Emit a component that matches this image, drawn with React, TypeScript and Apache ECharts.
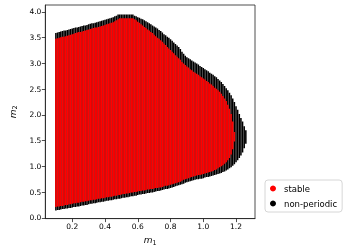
import React, { useEffect, useRef } from "react";
import * as echarts from "echarts";

// m1 columns 0.10 .. 1.26 step 0.01
const m1Values: number[] = [
  0.10, 0.11, 0.12, 0.13, 0.14, 0.15, 0.16, 0.17, 0.18, 0.19,
  0.20, 0.21, 0.22, 0.23, 0.24, 0.25, 0.26, 0.27, 0.28, 0.29,
  0.30, 0.31, 0.32, 0.33, 0.34, 0.35, 0.36, 0.37, 0.38, 0.39,
  0.40, 0.41, 0.42, 0.43, 0.44, 0.45, 0.46, 0.47, 0.48, 0.49,
  0.50, 0.51, 0.52, 0.53, 0.54, 0.55, 0.56, 0.57, 0.58, 0.59,
  0.60, 0.61, 0.62, 0.63, 0.64, 0.65, 0.66, 0.67, 0.68, 0.69,
  0.70, 0.71, 0.72, 0.73, 0.74, 0.75, 0.76, 0.77, 0.78, 0.79,
  0.80, 0.81, 0.82, 0.83, 0.84, 0.85, 0.86, 0.87, 0.88, 0.89,
  0.90, 0.91, 0.92, 0.93, 0.94, 0.95, 0.96, 0.97, 0.98, 0.99,
  1.00, 1.01, 1.02, 1.03, 1.04, 1.05, 1.06, 1.07, 1.08, 1.09,
  1.10, 1.11, 1.12, 1.13, 1.14, 1.15, 1.16, 1.17, 1.18, 1.19,
  1.20, 1.21, 1.22, 1.23, 1.24, 1.25, 1.26,
];

// non-periodic band: lowest m2 per column
const nonPeriodicLow: number[] = [
  0.16, 0.17, 0.17, 0.18, 0.19, 0.19, 0.20, 0.20, 0.21, 0.21,
  0.22, 0.23, 0.23, 0.24, 0.24, 0.25, 0.26, 0.26, 0.27, 0.27,
  0.28, 0.29, 0.29, 0.30, 0.30, 0.31, 0.32, 0.32, 0.33, 0.33,
  0.34, 0.35, 0.35, 0.36, 0.36, 0.37, 0.38, 0.38, 0.39, 0.39,
  0.40, 0.41, 0.41, 0.42, 0.42, 0.43, 0.44, 0.44, 0.45, 0.45,
  0.46, 0.47, 0.47, 0.48, 0.48, 0.49, 0.50, 0.50, 0.51, 0.51,
  0.52, 0.53, 0.54, 0.54, 0.55, 0.56, 0.57, 0.58, 0.58, 0.59,
  0.60, 0.61, 0.62, 0.63, 0.64, 0.65, 0.66, 0.67, 0.68, 0.70,
  0.71, 0.72, 0.73, 0.74, 0.75, 0.76, 0.77, 0.77, 0.78, 0.78,
  0.79, 0.80, 0.81, 0.81, 0.82, 0.83, 0.84, 0.85, 0.86, 0.87,
  0.88, 0.89, 0.91, 0.92, 0.94, 0.96, 0.98, 1.00, 1.03, 1.06,
  1.10, 1.14, 1.18, 1.23, 1.29, 1.37, 1.46,
];

// non-periodic band: highest m2 per column
const nonPeriodicHigh: number[] = [
  3.57, 3.58, 3.59, 3.60, 3.61, 3.62, 3.62, 3.63, 3.64, 3.65,
  3.66, 3.67, 3.68, 3.68, 3.69, 3.70, 3.71, 3.72, 3.72, 3.73,
  3.74, 3.75, 3.76, 3.76, 3.77, 3.78, 3.79, 3.80, 3.81, 3.82,
  3.83, 3.84, 3.85, 3.86, 3.87, 3.88, 3.90, 3.91, 3.93, 3.93,
  3.93, 3.93, 3.93, 3.93, 3.93, 3.93, 3.93, 3.93, 3.91, 3.90,
  3.88, 3.87, 3.85, 3.84, 3.82, 3.80, 3.78, 3.76, 3.74, 3.72,
  3.70, 3.68, 3.66, 3.63, 3.61, 3.58, 3.55, 3.53, 3.50, 3.48,
  3.45, 3.42, 3.39, 3.36, 3.33, 3.30, 3.26, 3.21, 3.17, 3.13,
  3.10, 3.08, 3.06, 3.04, 3.02, 3.00, 2.98, 2.96, 2.93, 2.91,
  2.89, 2.87, 2.85, 2.83, 2.80, 2.78, 2.76, 2.73, 2.71, 2.68,
  2.65, 2.62, 2.58, 2.54, 2.50, 2.46, 2.41, 2.36, 2.30, 2.23,
  2.15, 2.08, 2.00, 1.92, 1.85, 1.76, 1.68,
];

// stable region: lowest m2 per column (null = none)
const stableLow: (number | null)[] = [
  0.23, 0.24, 0.24, 0.25, 0.25, 0.26, 0.27, 0.27, 0.28, 0.28,
  0.29, 0.30, 0.30, 0.31, 0.31, 0.32, 0.33, 0.33, 0.34, 0.34,
  0.35, 0.36, 0.36, 0.37, 0.37, 0.38, 0.39, 0.39, 0.40, 0.40,
  0.41, 0.42, 0.42, 0.43, 0.43, 0.44, 0.45, 0.45, 0.46, 0.46,
  0.47, 0.48, 0.48, 0.49, 0.49, 0.50, 0.51, 0.51, 0.52, 0.52,
  0.53, 0.54, 0.54, 0.55, 0.55, 0.56, 0.57, 0.57, 0.58, 0.58,
  0.59, 0.60, 0.60, 0.61, 0.61, 0.62, 0.63, 0.64, 0.64, 0.65,
  0.66, 0.67, 0.68, 0.69, 0.70, 0.71, 0.72, 0.74, 0.76, 0.77,
  0.78, 0.79, 0.80, 0.81, 0.82, 0.83, 0.84, 0.85, 0.85, 0.86,
  0.87, 0.88, 0.89, 0.90, 0.91, 0.92, 0.93, 0.95, 0.96, 0.98,
  1.00, 1.02, 1.04, 1.07, 1.10, 1.14, 1.18, 1.25, 1.35, 1.50,
  null, null, null, null, null, null, null,
];

// stable region: highest m2 per column (null = none)
const stableHigh: (number | null)[] = [
  3.46, 3.47, 3.48, 3.49, 3.50, 3.50, 3.51, 3.52, 3.53, 3.54,
  3.55, 3.56, 3.57, 3.58, 3.59, 3.59, 3.60, 3.61, 3.62, 3.63,
  3.64, 3.65, 3.66, 3.67, 3.68, 3.68, 3.69, 3.70, 3.71, 3.72,
  3.73, 3.74, 3.75, 3.76, 3.77, 3.78, 3.80, 3.82, 3.84, 3.86,
  3.86, 3.86, 3.86, 3.86, 3.86, 3.86, 3.86, 3.86, 3.84, 3.82,
  3.79, 3.77, 3.74, 3.72, 3.69, 3.67, 3.64, 3.62, 3.59, 3.57,
  3.54, 3.51, 3.48, 3.46, 3.43, 3.40, 3.37, 3.34, 3.30, 3.27,
  3.24, 3.21, 3.18, 3.14, 3.11, 3.08, 3.05, 3.01, 2.98, 2.95,
  2.92, 2.90, 2.87, 2.85, 2.82, 2.80, 2.78, 2.76, 2.73, 2.71,
  2.69, 2.67, 2.64, 2.62, 2.59, 2.57, 2.54, 2.51, 2.49, 2.46,
  2.43, 2.39, 2.35, 2.30, 2.25, 2.18, 2.10, 2.00, 1.85, 1.65,
  null, null, null, null, null, null, null,
];

const xTicks: number[] = [0.2, 0.4, 0.6, 0.8, 1.0, 1.2];
const yTicks: number[] = [0.0, 0.5, 1.0, 1.5, 2.0, 2.5, 3.0, 3.5, 4.0];

const FONT = "DejaVu Sans";

function columnRenderer(color: string) {
  return (params: any, api: any) => {
    const lo = api.value(1);
    const hi = api.value(2);
    if (lo == null || hi == null || isNaN(lo) || isNaN(hi)) return null;
    const p0 = api.coord([api.value(0), lo]);
    const p1 = api.coord([api.value(0), hi]);
    const w = 1.55;
    return {
      type: "rect",
      shape: { x: p0[0] - w / 2, y: p1[1] - 1, width: w, height: p0[1] - p1[1] + 2 },
      style: { fill: color },
    };
  };
}

export default function App() {
  const ref = useRef<HTMLDivElement>(null);
  useEffect(() => {
    if (!ref.current) return;
    const chart = echarts.init(ref.current, null, { renderer: "svg" });
    const blackData = m1Values.map((m, i) => [m, nonPeriodicLow[i], nonPeriodicHigh[i]]);
    const redData = m1Values
      .map((m, i) => [m, stableLow[i], stableHigh[i]])
      .filter((d) => d[1] != null && d[2] != null);
    const tickStyle = { color: "#000", fontFamily: FONT, fontSize: 7.5 };
    chart.setOption({
      animation: false,
      textStyle: { fontFamily: FONT },
      grid: {
        left: 35,
        top: 5,
        width: 220,
        height: 214,
        show: true,
        borderColor: "#222",
        borderWidth: 0.8,
        containLabel: false,
      },
      legend: {
        orient: "vertical",
        left: 265,
        top: 180,
        itemWidth: 6,
        itemHeight: 6,
        itemGap: 6,
        padding: [4, 5, 4, 5],
        borderColor: "#ccc",
        borderWidth: 0.8,
        borderRadius: 3,
        textStyle: { fontFamily: FONT, fontSize: 8.5, color: "#000", padding: [0, 0, 0, 3] },
        data: [
          { name: "stable", icon: "circle", itemStyle: { color: "red" } },
          { name: "non-periodic", icon: "circle", itemStyle: { color: "black" } },
        ],
      },
      xAxis: {
        type: "value",
        min: 0.0355,
        max: 1.316,
        splitLine: { show: false },
        axisLine: { show: true, onZero: false, lineStyle: { color: "#222", width: 0.8 } },
        axisTick: { show: true, length: 3.5, customValues: xTicks, lineStyle: { color: "#222", width: 0.8 } },
        axisLabel: {
          ...tickStyle,
          margin: 4,
          customValues: xTicks,
          formatter: (v: number) => v.toFixed(1),
        },
        name: "{i|m}{s|1}",
        nameLocation: "middle",
        nameGap: 15,
        nameTextStyle: {
          rich: {
            i: { fontFamily: FONT, fontStyle: "italic", fontSize: 9, color: "#000" },
            s: { fontFamily: FONT, fontSize: 6.5, color: "#000", verticalAlign: "bottom", padding: [5, 0, 0, 0] },
          },
        },
      },
      yAxis: {
        type: "value",
        min: -0.016,
        max: 4.136,
        splitLine: { show: false },
        axisLine: { show: true, onZero: false, lineStyle: { color: "#222", width: 0.8 } },
        axisTick: { show: true, length: 3.5, customValues: yTicks, lineStyle: { color: "#222", width: 0.8 } },
        axisLabel: {
          ...tickStyle,
          margin: 4,
          customValues: yTicks,
          formatter: (v: number) => v.toFixed(1),
        },
        name: "{i|m}{s|2}",
        nameLocation: "middle",
        nameGap: 21,
        nameRotate: 90,
        nameTextStyle: {
          rich: {
            i: { fontFamily: FONT, fontStyle: "italic", fontSize: 9, color: "#000" },
            s: { fontFamily: FONT, fontSize: 6.5, color: "#000", verticalAlign: "bottom", padding: [5, 0, 0, 0] },
          },
        },
      },
      series: [
        {
          name: "non-periodic",
          type: "custom",
          renderItem: columnRenderer("#000000"),
          data: blackData,
          encode: { x: 0, y: [1, 2] },
          itemStyle: { color: "black" },
          z: 2,
          clip: true,
        },
        {
          name: "stable",
          type: "custom",
          renderItem: columnRenderer("#ff0000"),
          data: redData,
          encode: { x: 0, y: [1, 2] },
          itemStyle: { color: "red" },
          z: 3,
          clip: true,
        },
      ],
    });
    return () => chart.dispose();
  }, []);
  return (
    <div
      ref={ref}
      style={{ position: "fixed", left: 0, top: 0, width: 354, height: 251 }}
    />
  );
}
